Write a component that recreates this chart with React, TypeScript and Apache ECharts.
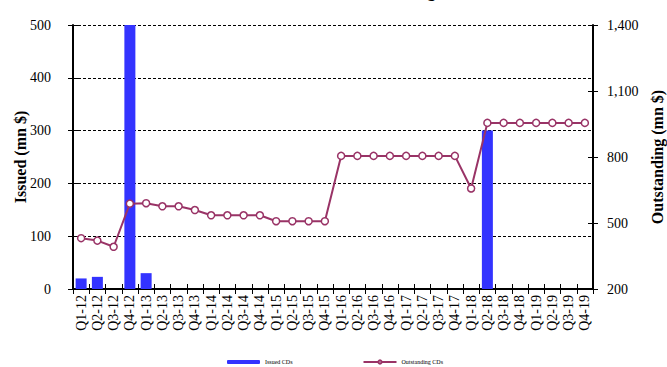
import React, { useEffect, useRef } from "react";
import * as echarts from "echarts";

const categories = [
  "Q1-12", "Q2-12", "Q3-12", "Q4-12",
  "Q1-13", "Q2-13", "Q3-13", "Q4-13",
  "Q1-14", "Q2-14", "Q3-14", "Q4-14",
  "Q1-15", "Q2-15", "Q3-15", "Q4-15",
  "Q1-16", "Q2-16", "Q3-16", "Q4-16",
  "Q1-17", "Q2-17", "Q3-17", "Q4-17",
  "Q1-18", "Q2-18", "Q3-18", "Q4-18",
  "Q1-19", "Q2-19", "Q3-19", "Q4-19",
];

const issuedCDs: (number | null)[] = [
  20, 23, null, 500,
  30, null, null, null,
  null, null, null, null,
  null, null, null, null,
  null, null, null, null,
  null, null, null, null,
  null, 300, null, null,
  null, null, null, null,
];

const outstandingCDs = [
  431, 420, 392, 588,
  590, 576, 576, 559,
  535, 535, 535, 535,
  508, 508, 508, 508,
  805, 805, 805, 805,
  805, 805, 805, 805,
  657, 955, 955, 955,
  955, 955, 955, 955,
];

const leftTicks = { min: 0, max: 500, interval: 100 };
const rightTicks = { min: 200, max: 1400, interval: 300 };

const FONT = '"Liberation Serif", "Times New Roman", serif';

export default function App() {
  const ref = useRef<HTMLDivElement>(null);

  useEffect(() => {
    if (!ref.current) return;
    const chart = echarts.init(ref.current, null, { renderer: "svg" });
    const axisLineStyle = { color: "#000", width: 2 };
    chart.setOption({
      animation: false,
      backgroundColor: "#fff",
      textStyle: { fontFamily: FONT },
      grid: { left: 73, right: 74, top: 25, bottom: 78, containLabel: false, outerBoundsMode: "none" },
      graphic: [
        {
          type: "text",
          x: 330,
          y: -1,
          silent: true,
          style: {
            text: "CDs Issuance and Outstanding",
            fontFamily: FONT,
            fontWeight: "bold",
            fontSize: 16,
            fill: "#000",
            align: "center",
            verticalAlign: "bottom",
          },
        },
      ],
      legend: {
        left: 222,
        top: 354,
        itemWidth: 33,
        itemHeight: 4,
        itemGap: 70,
        textStyle: { fontSize: 6, fontFamily: FONT, color: "#000" },
        data: ["Issued CDs", "Outstanding CDs"],
      },
      xAxis: [
        {
          type: "category",
          data: categories,
          boundaryGap: true,
          axisLine: { show: true, lineStyle: axisLineStyle },
          axisTick: { show: true, interval: 0, length: 5, lineStyle: { color: "#000", width: 1 } },
          axisLabel: {
            interval: 0,
            rotate: 90,
            fontSize: 14,
            fontFamily: FONT,
            color: "#000",
            margin: 6,
          },
          splitLine: { show: false },
        },
        {
          type: "category",
          data: categories,
          position: "bottom",
          boundaryGap: true,
          axisLine: { show: false },
          axisTick: { show: true, inside: true, interval: 0, length: 5, lineStyle: { color: "#000", width: 1 } },
          axisLabel: { show: false },
          splitLine: { show: false },
        },
      ],
      yAxis: [
        {
          type: "value",
          position: "left",
          min: leftTicks.min,
          max: leftTicks.max,
          interval: leftTicks.interval,
          name: "Issued (mn $)",
          nameLocation: "middle",
          nameGap: 45,
          nameRotate: 90,
          nameMoveOverlap: false,
          nameTextStyle: { fontSize: 16, fontWeight: "bold", fontFamily: FONT, color: "#000" },
          axisLine: { show: true, lineStyle: axisLineStyle },
          axisTick: { show: true, length: 5, lineStyle: { color: "#000", width: 1 } },
          axisLabel: { fontSize: 14, fontFamily: FONT, color: "#000", margin: 22 },
          splitLine: { show: true, lineStyle: { color: "#000", type: [3, 2], width: 1 } },
        },
        {
          type: "value",
          position: "right",
          min: rightTicks.min,
          max: rightTicks.max,
          interval: rightTicks.interval,
          name: "Outstanding (mn $)",
          nameLocation: "middle",
          nameGap: 56,
          nameRotate: 90,
          nameMoveOverlap: false,
          nameTextStyle: { fontSize: 16, fontWeight: "bold", fontFamily: FONT, color: "#000" },
          axisLine: { show: true, lineStyle: axisLineStyle },
          axisTick: { show: true, length: 5, lineStyle: { color: "#000", width: 1 } },
          axisLabel: {
            fontSize: 14,
            fontFamily: FONT,
            color: "#000",
            margin: 14,
            formatter: (v: number) => v.toLocaleString("en-US"),
          },
          splitLine: { show: false },
        },
        {
          type: "value",
          position: "left",
          min: leftTicks.min,
          max: leftTicks.max,
          interval: leftTicks.interval,
          axisLine: { show: false },
          axisTick: { show: true, inside: true, length: 5, lineStyle: { color: "#000", width: 1 } },
          axisLabel: { show: false },
          splitLine: { show: false },
        },
        {
          type: "value",
          position: "right",
          min: rightTicks.min,
          max: rightTicks.max,
          interval: rightTicks.interval,
          axisLine: { show: false },
          axisTick: { show: true, inside: true, length: 5, lineStyle: { color: "#000", width: 1 } },
          axisLabel: { show: false },
          splitLine: { show: false },
        },
      ],
      series: [
        {
          name: "Issued CDs",
          type: "bar",
          xAxisIndex: 0,
          yAxisIndex: 0,
          data: issuedCDs,
          barWidth: 11,
          itemStyle: { color: "#3333ff" },
          clip: true,
        },
        {
          name: "Outstanding CDs",
          type: "line",
          xAxisIndex: 0,
          yAxisIndex: 1,
          data: outstandingCDs,
          symbol: "circle",
          symbolSize: 7,
          lineStyle: { color: "#993366", width: 2 },
          itemStyle: { color: "#ffffff", borderColor: "#993366", borderWidth: 1.5 },
          z: 3,
        },
      ],
    });
    return () => chart.dispose();
  }, []);

  return (
    <div
      ref={ref}
      style={{ position: "absolute", left: 0, top: 0, width: 667, height: 367 }}
    />
  );
}
